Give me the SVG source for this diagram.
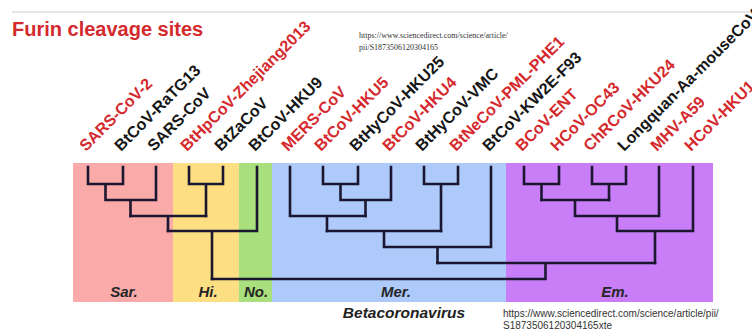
<svg xmlns="http://www.w3.org/2000/svg" width="752" height="331" viewBox="0 0 752 331">
<style>
.lab{font-family:"Liberation Sans",Arial,sans-serif;font-weight:bold;font-size:16px}
.r{fill:#d42a2e}
.k{fill:#151515}
.clade{font-family:"Liberation Sans",Arial,sans-serif;font-weight:bold;font-style:italic;font-size:15px;fill:#262626;text-anchor:middle}
.tree{fill:none;stroke:#1b1730;stroke-width:2.6;stroke-linecap:square;stroke-linejoin:miter}
.url1{font-family:"Liberation Serif","Times New Roman",serif;font-size:8px;fill:#333}
.url2{font-family:"Liberation Sans",Arial,sans-serif;font-size:10px;fill:#333}
</style>
<rect width="752" height="331" fill="#fff"/>
<line x1="12" y1="12" x2="752" y2="12" stroke="#cfcfcf" stroke-width="1"/>
<text x="12" y="36" font-family="Liberation Sans, Arial, sans-serif" font-weight="bold" font-size="20" fill="#d42a2e">Furin cleavage sites</text>
<text class="url1" x="359" y="38">https://www.sciencedirect.com/science/article/</text>
<text class="url1" x="359" y="50">pii/S1873506120304165</text>

<g id="clades">
<g id="clade-sar"><rect x="73" y="163" width="100" height="139" fill="#f9aaa9"/><text class="clade" x="124" y="297">Sar.</text></g>
<g id="clade-hi"><rect x="173" y="163" width="66" height="139" fill="#fbdf82"/><text class="clade" x="208" y="297">Hi.</text></g>
<g id="clade-no"><rect x="239" y="163" width="33" height="139" fill="#a9df7c"/><text class="clade" x="256" y="297">No.</text></g>
<g id="clade-mer"><rect x="272" y="163" width="234" height="139" fill="#aecafa"/><text class="clade" x="396" y="297">Mer.</text></g>
<g id="clade-em"><rect x="506" y="163" width="207" height="139" fill="#c97ef8"/><text class="clade" x="615" y="297">Em.</text></g>
</g>

<g id="connectors" class="tree">
<path d="M88 167V184H123V167M105.5 184V200H156V167M130.5 200V216"/>
<path d="M189 167V184H223V167M206 184V216"/>
<path d="M130.5 216H206M168 216V231"/>
<path d="M257 167V231M168 231H257M212 231V279"/>
<path d="M323 167V184H358V167M340.5 184V200H391V167M365.5 200V216"/>
<path d="M290 167V216H365.5M327 216V231"/>
<path d="M424 167V184H458V167M441 184V231"/>
<path d="M327 231H441M384 231V247H491V167M437.5 247V263"/>
<path d="M524 167V184H559V167M541.5 184V200"/>
<path d="M592 167V184H626V167M609 184V200"/>
<path d="M541.5 200H609M575 200V216H659V167M617 216V231H693V167M655 231V263"/>
<path d="M437.5 263H655M545.5 263V279H212"/>
</g>

<g id="taxa">
<g id="t1"><text class="lab r" transform="translate(86 152) rotate(-45)">SARS-CoV-2</text></g>
<g id="t2"><text class="lab k" transform="translate(121 152) rotate(-45)">BtCoV-RaTG13</text></g>
<g id="t3"><text class="lab k" transform="translate(154 152) rotate(-45)">SARS-CoV</text></g>
<g id="t4"><text class="lab r" transform="translate(187 152) rotate(-45)">BtHpCoV-Zhejiang2013</text></g>
<g id="t5"><text class="lab k" transform="translate(221 152) rotate(-45)">BtZaCoV</text></g>
<g id="t6"><text class="lab k" transform="translate(255 152) rotate(-45)">BtCoV-HKU9</text></g>
<g id="t7"><text class="lab r" transform="translate(288 152) rotate(-45)">MERS-CoV</text></g>
<g id="t8"><text class="lab r" transform="translate(321 152) rotate(-45)">BtCoV-HKU5</text></g>
<g id="t9"><text class="lab k" transform="translate(356 152) rotate(-45)">BtHyCoV-HKU25</text></g>
<g id="t10"><text class="lab r" transform="translate(389 152) rotate(-45)">BtCoV-HKU4</text></g>
<g id="t11"><text class="lab k" transform="translate(422 152) rotate(-45)">BtHyCoV-VMC</text></g>
<g id="t12"><text class="lab r" transform="translate(456 152) rotate(-45)">BtNeCoV-PML-PHE1</text></g>
<g id="t13"><text class="lab k" transform="translate(489 152) rotate(-45)">BtCoV-KW2E-F93</text></g>
<g id="t14"><text class="lab r" transform="translate(522 152) rotate(-45)">BCoV-ENT</text></g>
<g id="t15"><text class="lab r" transform="translate(557 152) rotate(-45)">HCoV-OC43</text></g>
<g id="t16"><text class="lab r" transform="translate(590 152) rotate(-45)">ChRCoV-HKU24</text></g>
<g id="t17"><text class="lab k" transform="translate(624 152) rotate(-45)">Longquan-Aa-mouseCoV</text></g>
<g id="t18"><text class="lab r" transform="translate(657 152) rotate(-45)">MHV-A59</text></g>
<g id="t19"><text class="lab r" transform="translate(691 152) rotate(-45)">HCoV-HKU1</text></g>
</g>

<text x="404" y="318" font-family="Liberation Sans, Arial, sans-serif" font-weight="bold" font-style="italic" font-size="15.5" fill="#222" text-anchor="middle">Betacoronavirus</text>
<text class="url2" x="503" y="317">https://www.sciencedirect.com/science/article/pii/</text>
<text class="url2" x="503" y="329">S1873506120304165xte</text>
</svg>
